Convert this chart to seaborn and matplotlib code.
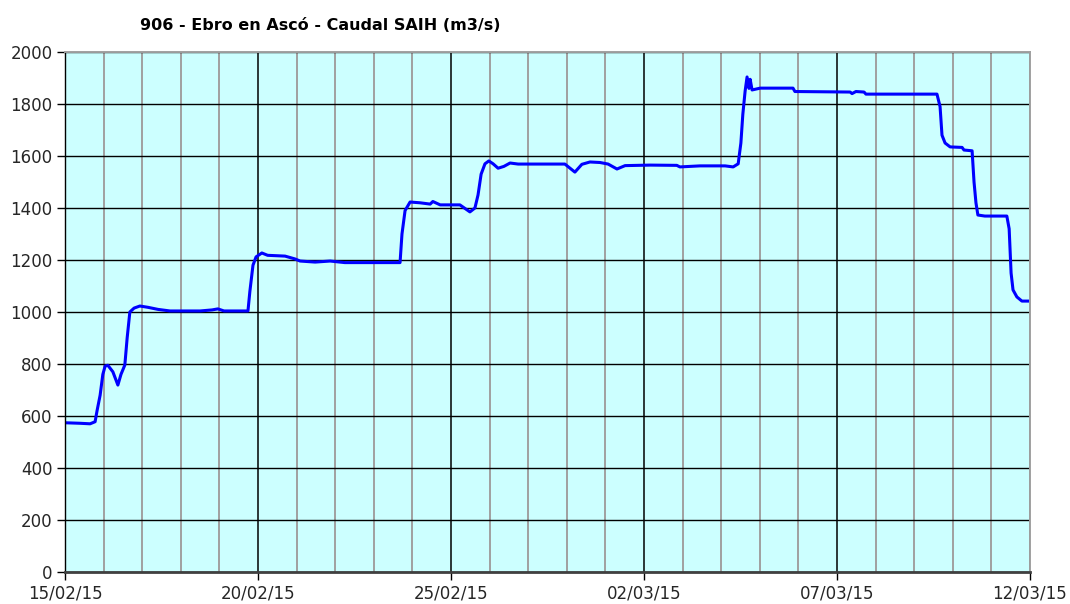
import numpy as np
import pandas as pd
import matplotlib
matplotlib.use("Agg")
import matplotlib.pyplot as plt
import matplotlib.dates as mdates
import seaborn as sns

# ---- data ----
title = "906 - Ebro en Ascó - Caudal SAIH (m3/s)"
start_date = "2015-02-15"
days = [0.00, 0.39, 0.65, 0.78, 0.83, 0.91, 0.98, 1.04, 1.11, 1.24, 1.37, 1.45, 1.55, 1.61,
        1.68, 1.79, 1.94, 2.15, 2.41, 2.72, 3.50, 3.81, 3.96, 4.12, 4.74, 4.79, 4.87, 4.95,
        5.10, 5.25, 5.70, 5.96, 6.09, 6.48, 6.87, 7.25, 7.90, 8.68, 8.73, 8.81, 8.94, 9.20,
        9.46, 9.53, 9.72, 10.23, 10.49, 10.62, 10.70, 10.78, 10.88, 10.98, 11.09, 11.22,
        11.37, 11.53, 11.74, 12.69, 12.95, 13.21, 13.39, 13.60, 13.86, 14.07, 14.30, 14.51,
        15.16, 15.85, 15.93, 16.45, 17.10, 17.31, 17.44, 17.51, 17.56, 17.62, 17.67, 17.72,
        17.75, 17.80, 18.01, 18.86, 18.91, 20.34, 20.39, 20.49, 20.70, 20.75, 22.59, 22.67,
        22.72, 22.80, 22.93, 23.24, 23.29, 23.50, 23.55, 23.60, 23.65, 23.83, 24.40, 24.46,
        24.51, 24.56, 24.66, 24.79, 25.00]
flow = [574, 572, 570, 578, 620, 680, 760, 792, 795, 770, 719, 760, 796, 900,
        1000, 1015, 1023, 1018, 1010, 1004, 1004, 1008, 1012, 1004, 1004, 1080, 1180, 1212,
        1227, 1218, 1215, 1204, 1196, 1192, 1196, 1190, 1190, 1190, 1300, 1390, 1423, 1420,
        1415, 1425, 1412, 1412, 1385, 1400, 1450, 1530, 1570, 1581, 1570, 1553,
        1560, 1573, 1569, 1569, 1569, 1538, 1568, 1577, 1575, 1569, 1550, 1563,
        1565, 1564, 1558, 1562, 1562, 1558, 1570, 1650, 1760, 1850, 1904, 1860,
        1895, 1854, 1861, 1861, 1848, 1846, 1840, 1848, 1846, 1838, 1838, 1790,
        1680, 1650, 1635, 1633, 1623, 1620, 1500, 1420, 1373, 1369, 1369, 1320,
        1150, 1085, 1058, 1042, 1042]
x_tick_labels = ["15/02/15", "20/02/15", "25/02/15", "02/03/15", "07/03/15", "12/03/15"]
y_ticks = [0, 200, 400, 600, 800, 1000, 1200, 1400, 1600, 1800, 2000]

# ---- build frame ----
t0 = pd.Timestamp(start_date)
df = pd.DataFrame({"time": t0 + pd.to_timedelta(days, unit="D"), "flow": flow})

sns.set_style("white")
plt.rcParams["font.family"] = ["DejaVu Sans"]

fig = plt.figure(figsize=(10.70, 6.04), dpi=100)
ax = fig.add_axes([65 / 1070, 32 / 604, 965 / 1070, 520 / 604])
ax.set_facecolor("#CCFFFF")

sns.lineplot(data=df, x="time", y="flow", ax=ax, color="#0000FF", linewidth=2.2,
             zorder=5)

n_days = 25
x0 = mdates.date2num(t0)
major_pos = [x0 + 5 * i for i in range(len(x_tick_labels))]
minor_pos = [x0 + i for i in range(n_days + 1)]

ax.set_xlim(x0, x0 + n_days)
ax.set_ylim(0, 2000)

# grid: grey daily lines, black 5-day lines, black horizontal lines
for p in minor_pos:
    if p not in major_pos:
        ax.axvline(p, color="#A0A0A0", lw=1.4, zorder=1)
for p in major_pos:
    ax.axvline(p, color="black", lw=1.1, zorder=2)
for v in y_ticks:
    ax.axhline(v, color="black", lw=1.0, zorder=2)

ax.xaxis.set_major_locator(plt.FixedLocator(major_pos))
ax.set_xticklabels(x_tick_labels)
ax.set_yticks(y_ticks)
ax.set_yticklabels([str(v) for v in y_ticks])
ax.tick_params(axis="both", which="major", direction="out", length=6, width=1.0,
               color="black", labelsize=12, pad=3, left=True, bottom=True)
ax.set_xlabel("")
ax.set_ylabel("")

for s in ["top", "right"]:
    ax.spines[s].set_color("#A0A0A0")
    ax.spines[s].set_linewidth(1.4)
ax.spines["left"].set_color("black")
ax.spines["left"].set_linewidth(1.0)
ax.spines["bottom"].set_color("#404040")
ax.spines["bottom"].set_linewidth(2.0)
for s in ax.spines.values():
    s.set_zorder(6)

fig.text(320 / 1070, 1 - 25 / 604, title, ha="center", va="center",
         fontsize=11.5, fontweight="bold", color="#000000")

fig.savefig("out.png", dpi=100, facecolor="white")
